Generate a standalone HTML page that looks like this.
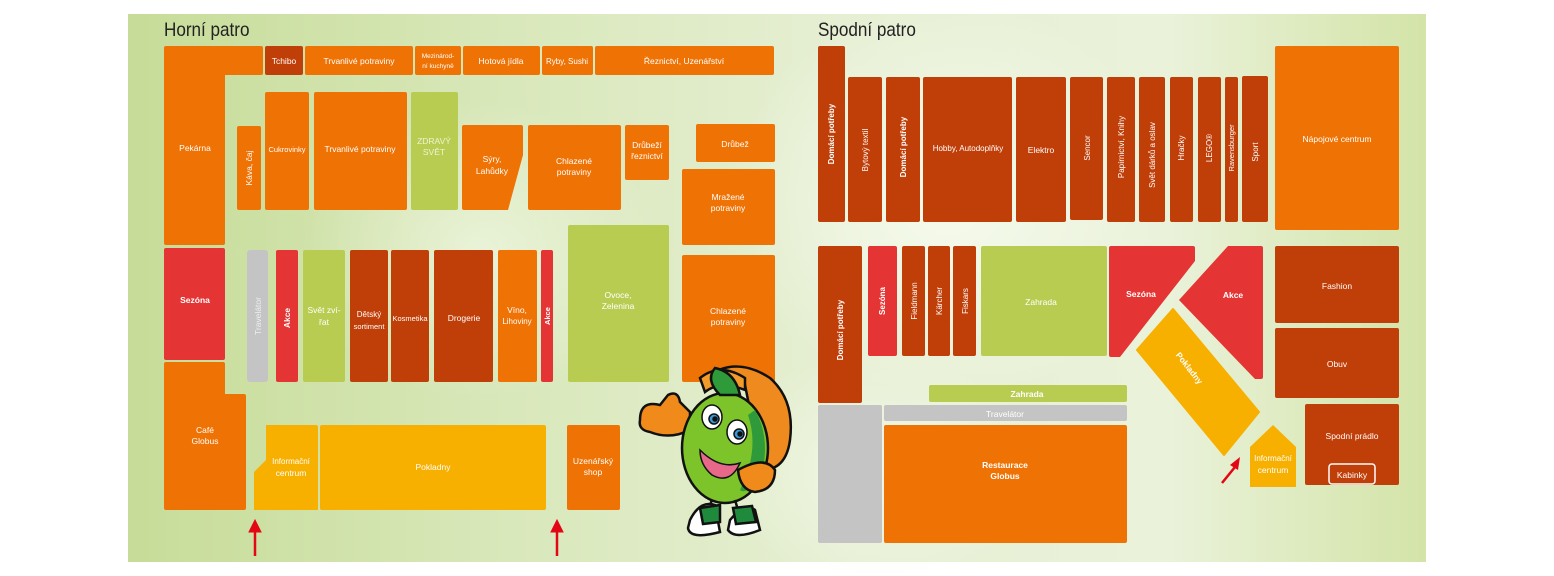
<!DOCTYPE html>
<html><head><meta charset="utf-8"><style>
html,body{margin:0;padding:0;background:#fff;}
svg{display:block;}
text{font-family:"Liberation Sans Narrow","Liberation Sans",sans-serif;fill:#fff;font-size:8.5px;text-anchor:middle;}
.b{font-weight:bold;}
.t{font-size:19px;fill:#222;text-anchor:start;font-family:"Liberation Sans Narrow","Liberation Sans",sans-serif;}
</style></head><body>
<svg width="1554" height="576" viewBox="0 0 1554 576" xmlns="http://www.w3.org/2000/svg">
<defs>
<linearGradient id="bg" x1="0" y1="0" x2="1" y2="0">
<stop offset="0" stop-color="#c7dc98"/><stop offset="0.3" stop-color="#d9e8bb"/><stop offset="0.55" stop-color="#e6efd3"/><stop offset="0.8" stop-color="#eaf2da"/><stop offset="1" stop-color="#d3e4a8"/>
</linearGradient>
<radialGradient id="hl" cx="0.5" cy="0.5" r="0.5">
<stop offset="0" stop-color="#f7fbef" stop-opacity="0.95"/><stop offset="1" stop-color="#f7fbef" stop-opacity="0"/>
</radialGradient>
</defs>
<rect x="128" y="14" width="1298" height="548" fill="url(#bg)"/>
<ellipse cx="950" cy="200" rx="220" ry="200" fill="url(#hl)"/>
<ellipse cx="480" cy="250" rx="180" ry="150" fill="url(#hl)" opacity="0.6"/>
<ellipse cx="880" cy="470" rx="160" ry="120" fill="url(#hl)" opacity="0.7"/>

<text class="t" x="164" y="36" transform="translate(164,0) scale(0.9,1) translate(-164,0)">Horní patro</text>
<text class="t" x="818" y="36" transform="translate(818,0) scale(0.9,1) translate(-818,0)">Spodní patro</text>

<!-- UPPER FLOOR -->
<g>
<path d="M166 46 H261 Q263 46 263 48 V73 Q263 75 261 75 H225 V243 Q225 245 223 245 H166 Q164 245 164 243 V48 Q164 46 166 46Z" fill="#ef7204"/>
<text x="195" y="151">Pekárna</text>
<rect x="265" y="46" width="38" height="29" rx="2" fill="#c03e08"/><text x="284" y="64">Tchibo</text>
<rect x="305" y="46" width="108" height="29" rx="2" fill="#ef7204"/><text x="359" y="64">Trvanlivé potraviny</text>
<rect x="415" y="46" width="46" height="29" rx="2" fill="#ef7204"/><text x="438" y="58" style="font-size:6.5px">Mezinárod-</text><text x="438" y="68" style="font-size:6.5px">ní kuchyně</text>
<rect x="463" y="46" width="77" height="29" rx="2" fill="#ef7204"/><text x="501" y="64">Hotová jídla</text>
<rect x="542" y="46" width="51" height="29" rx="2" fill="#ef7204"/><text x="567" y="64" style="font-size:8px">Ryby, Sushi</text>
<rect x="595" y="46" width="179" height="29" rx="2" fill="#ef7204"/><text x="684" y="64">Řeznictví, Uzenářství</text>

<rect x="237" y="126" width="24" height="84" rx="2" fill="#ef7204"/><text transform="translate(252,168) rotate(-90)">Káva, čaj</text>
<rect x="265" y="92" width="44" height="118" rx="2" fill="#ef7204"/><text x="287" y="152" style="font-size:7.5px">Cukrovinky</text>
<rect x="314" y="92" width="93" height="118" rx="2" fill="#ef7204"/><text x="360" y="152">Trvanlivé potraviny</text>
<rect x="411" y="92" width="47" height="118" rx="2" fill="#b9cc52"/><text x="434" y="144" style="fill:#eef3d0">ZDRAVÝ</text><text x="434" y="155" style="fill:#eef3d0">SVĚT</text>
<path d="M464 125 H521 Q523 125 523 127 V155 L508 210 H464 Q462 210 462 208 V127 Q462 125 464 125Z" fill="#ef7204"/><text x="492" y="162">Sýry,</text><text x="492" y="174">Lahůdky</text>
<rect x="528" y="125" width="93" height="85" rx="2" fill="#ef7204"/><text x="574" y="164">Chlazené</text><text x="574" y="175">potraviny</text>
<rect x="625" y="125" width="44" height="55" rx="2" fill="#ef7204"/><text x="647" y="148">Drůbeží</text><text x="647" y="159">řeznictví</text>
<rect x="696" y="124" width="79" height="38" rx="2" fill="#ef7204"/><text x="735" y="147">Drůbež</text>
<rect x="682" y="169" width="93" height="76" rx="2" fill="#ef7204"/><text x="728" y="200">Mražené</text><text x="728" y="211">potraviny</text>

<rect x="164" y="248" width="61" height="112" rx="2" fill="#e53434"/><text class="b" x="195" y="303">Sezóna</text>
<rect x="247" y="250" width="21" height="132" rx="3" fill="#c4c4c4"/><text transform="translate(261,316) rotate(-90)" style="fill:#eee">Travelátor</text>
<rect x="276" y="250" width="22" height="132" rx="2" fill="#e53434"/><text class="b" transform="translate(290,318) rotate(-90)">Akce</text>
<rect x="303" y="250" width="42" height="132" rx="2" fill="#b9cc52"/><text x="324" y="313">Svět zví-</text><text x="324" y="325">řat</text>
<rect x="350" y="250" width="38" height="132" rx="2" fill="#c03e08"/><text x="369" y="317" style="font-size:8px">Dětský</text><text x="369" y="329" style="font-size:7.5px">sortiment</text>
<rect x="391" y="250" width="38" height="132" rx="2" fill="#c03e08"/><text x="410" y="321" style="font-size:7.5px">Kosmetika</text>
<rect x="434" y="250" width="59" height="132" rx="2" fill="#c03e08"/><text x="464" y="321">Drogerie</text>
<rect x="498" y="250" width="39" height="132" rx="2" fill="#ef7204"/><text x="517" y="313">Víno,</text><text x="517" y="324" style="font-size:8px">Lihoviny</text>
<rect x="541" y="250" width="12" height="132" rx="2" fill="#e53434"/><text class="b" transform="translate(550,316) rotate(-90)" style="font-size:7.5px">Akce</text>
<rect x="568" y="225" width="101" height="157" rx="2" fill="#b9cc52"/><text x="618" y="298">Ovoce,</text><text x="618" y="309">Zelenina</text>
<rect x="682" y="255" width="93" height="127" rx="2" fill="#ef7204"/><text x="728" y="314">Chlazené</text><text x="728" y="325">potraviny</text>

<path d="M166 362 H223 Q225 362 225 364 V394 H244 Q246 394 246 396 V508 Q246 510 244 510 H166 Q164 510 164 508 V364 Q164 362 166 362Z" fill="#ef7204"/><text x="205" y="433">Café</text><text x="205" y="444">Globus</text>
<path d="M266 425 H316 Q318 425 318 427 V510 H254 V472 L266 460Z" fill="#f7b000"/><text x="291" y="464" style="font-size:8px">Informační</text><text x="291" y="476">centrum</text>
<rect x="320" y="425" width="226" height="85" rx="2" fill="#f7b000"/><text x="433" y="470">Pokladny</text>
<rect x="567" y="425" width="53" height="85" rx="2" fill="#ef7204"/><text x="593" y="464">Uzenářský</text><text x="593" y="475">shop</text>

<g fill="#e30613" stroke="#e30613">
<line x1="255" y1="530" x2="255" y2="556" stroke-width="2.5"/><path d="M249 532 L255 520 L261 532Z"/>
<line x1="557" y1="530" x2="557" y2="556" stroke-width="2.5"/><path d="M551 532 L557 520 L563 532Z"/>
</g>

<!-- mascot -->
<g stroke="#111" stroke-width="2.5">
<path d="M705 378 Q735 355 770 378 Q795 400 790 440 Q786 470 762 470 L745 385Z" fill="#ee8a1e"/>
<path d="M700 378 Q720 362 745 378 L745 390 Q720 380 705 392Z" fill="#f29a2a"/>
<path d="M640 420 Q640 400 660 405 L668 395 Q678 390 680 402 L690 412 L690 430 Q670 440 650 432 Q638 430 640 420Z" fill="#f08a1a"/>
<ellipse cx="725" cy="448" rx="43" ry="55" fill="#7cc42a"/>
<path d="M755 410 Q772 440 760 480 Q745 495 740 490 Q760 450 748 415Z" fill="#2e9a3a" stroke="none"/>
<path d="M720 395 Q705 380 715 368 Q735 372 740 395Z" fill="#2e9a3a"/>
<path d="M738 470 Q765 455 775 470 Q775 490 755 492 Q740 490 738 470Z" fill="#f08a1a"/>
<line x1="712" y1="500" x2="708" y2="510" />
<line x1="735" y1="500" x2="738" y2="510" />
<path d="M690 520 Q700 500 715 505 L720 532 Q690 540 688 528Z" fill="#fff"/>
<path d="M730 520 Q745 502 755 510 L760 530 Q735 540 728 530Z" fill="#fff"/>
<path d="M700 508 L720 505 L720 522 L703 524Z" fill="#1f8a3c"/>
<path d="M733 508 L752 506 L756 522 L736 524Z" fill="#1f8a3c"/>
</g>
<g stroke="#111" stroke-width="1.5">
<ellipse cx="712" cy="417" rx="10" ry="12" fill="#fff"/><circle cx="714" cy="419" r="5" fill="#3a9ad9"/><circle cx="715" cy="419" r="2" fill="#111"/>
<ellipse cx="737" cy="432" rx="10" ry="12" fill="#fff"/><circle cx="739" cy="434" r="5" fill="#3a9ad9"/><circle cx="740" cy="434" r="2" fill="#111"/>
<path d="M700 450 Q720 470 740 463 Q730 485 712 475 Q700 465 700 450Z" fill="#e8688a"/>
</g>
</g>

<!-- LOWER FLOOR -->
<g>
<rect x="818" y="46" width="27" height="176" rx="2" fill="#c03e08"/><text class="b" transform="translate(834,134) rotate(-90)" style="font-size:8px">Domácí potřeby</text>
<rect x="848" y="77" width="34" height="145" rx="2" fill="#c03e08"/><text transform="translate(868,150) rotate(-90)" style="font-size:8px">Bytový textil</text>
<rect x="886" y="77" width="34" height="145" rx="2" fill="#c03e08"/><text class="b" transform="translate(906,147) rotate(-90)" style="font-size:8px">Domácí potřeby</text>
<rect x="923" y="77" width="89" height="145" rx="2" fill="#c03e08"/><text x="968" y="151" style="font-size:8px">Hobby, Autodoplňky</text>
<rect x="1016" y="77" width="50" height="145" rx="2" fill="#c03e08"/><text x="1041" y="153">Elektro</text>
<rect x="1070" y="77" width="33" height="143" rx="2" fill="#c03e08"/><text transform="translate(1090,148) rotate(-90)" style="font-size:8px">Sencor</text>
<rect x="1107" y="77" width="28" height="145" rx="2" fill="#c03e08"/><text transform="translate(1124,147) rotate(-90)" style="font-size:8px">Papírnictví, Knihy</text>
<rect x="1139" y="77" width="26" height="145" rx="2" fill="#c03e08"/><text transform="translate(1155,155) rotate(-90)" style="font-size:8px">Svět dárků a oslav</text>
<rect x="1170" y="77" width="23" height="145" rx="2" fill="#c03e08"/><text transform="translate(1184,148) rotate(-90)" style="font-size:8px">Hračky</text>
<rect x="1198" y="77" width="23" height="145" rx="2" fill="#c03e08"/><text transform="translate(1212,148) rotate(-90)" style="font-size:8px">LEGO®</text>
<rect x="1225" y="77" width="13" height="145" rx="2" fill="#c03e08"/><text transform="translate(1234,148) rotate(-90)" style="font-size:7.5px">Ravensburger</text>
<rect x="1242" y="76" width="26" height="146" rx="2" fill="#c03e08"/><text transform="translate(1258,152) rotate(-90)" style="font-size:8px">Sport</text>
<rect x="1275" y="46" width="124" height="184" rx="2" fill="#ef7204"/><text x="1337" y="142">Nápojové centrum</text>

<rect x="818" y="246" width="44" height="157" rx="2" fill="#c03e08"/><text class="b" transform="translate(843,330) rotate(-90)" style="font-size:8px">Domácí potřeby</text>
<rect x="868" y="246" width="29" height="110" rx="2" fill="#e53434"/><text class="b" transform="translate(885,301) rotate(-90)" style="font-size:8px">Sezóna</text>
<rect x="902" y="246" width="23" height="110" rx="2" fill="#c03e08"/><text transform="translate(917,301) rotate(-90)" style="font-size:8px">Fieldmann</text>
<rect x="928" y="246" width="22" height="110" rx="2" fill="#c03e08"/><text transform="translate(942,301) rotate(-90)" style="font-size:8px">Kärcher</text>
<rect x="953" y="246" width="23" height="110" rx="2" fill="#c03e08"/><text transform="translate(968,301) rotate(-90)" style="font-size:8px">Fiskars</text>
<rect x="981" y="246" width="126" height="110" rx="2" fill="#b9cc52"/><text x="1041" y="305">Zahrada</text>
<path d="M1111 246 H1193 Q1195 246 1195 248 V261 L1120 357 H1111 Q1109 357 1109 355 V248 Q1109 246 1111 246Z" fill="#e53434"/><text class="b" x="1141" y="297">Sezóna</text>
<path d="M1179 300 L1228 246 H1261 Q1263 246 1263 248 V377 Q1263 379 1261 379 H1255Z" fill="#e53434"/><text class="b" x="1233" y="298">Akce</text>
<path d="M1137 350 L1173 309 L1259 412 L1224 455Z" fill="#f7b000" stroke="#f7b000" stroke-width="2" stroke-linejoin="round"/>
<text class="b" transform="translate(1187,370) rotate(52)">Pokladny</text>
<rect x="929" y="385" width="198" height="17" rx="2" fill="#b9cc52"/><text class="b" x="1027" y="397">Zahrada</text>
<rect x="884" y="405" width="243" height="16" rx="2" fill="#c4c4c4"/><text x="1005" y="417">Travelátor</text>
<rect x="818" y="405" width="64" height="138" rx="2" fill="#c4c4c4"/>
<rect x="884" y="425" width="243" height="118" rx="2" fill="#ef7204"/><text class="b" x="1005" y="468">Restaurace</text><text class="b" x="1005" y="479">Globus</text>
<path d="M1250 447 L1273 425 L1296 447 V487 H1250Z" fill="#f7b000"/><text x="1273" y="461" style="font-size:8px">Informační</text><text x="1273" y="473">centrum</text>
<line x1="1222" y1="483" x2="1235" y2="467" stroke="#e30613" stroke-width="2.5"/><path d="M1230 465 L1240 457 L1238 470Z" fill="#e30613"/>
<rect x="1275" y="246" width="124" height="77" rx="2" fill="#c03e08"/><text x="1337" y="289">Fashion</text>
<rect x="1275" y="328" width="124" height="70" rx="2" fill="#c03e08"/><text x="1337" y="367">Obuv</text>
<rect x="1305" y="404" width="94" height="81" rx="2" fill="#c03e08"/><text x="1352" y="439">Spodní prádlo</text>
<rect x="1329" y="464" width="46" height="20" rx="3" fill="none" stroke="#fff" stroke-width="1.5"/><text x="1352" y="478">Kabinky</text>
</g>
</svg>
</body></html>
